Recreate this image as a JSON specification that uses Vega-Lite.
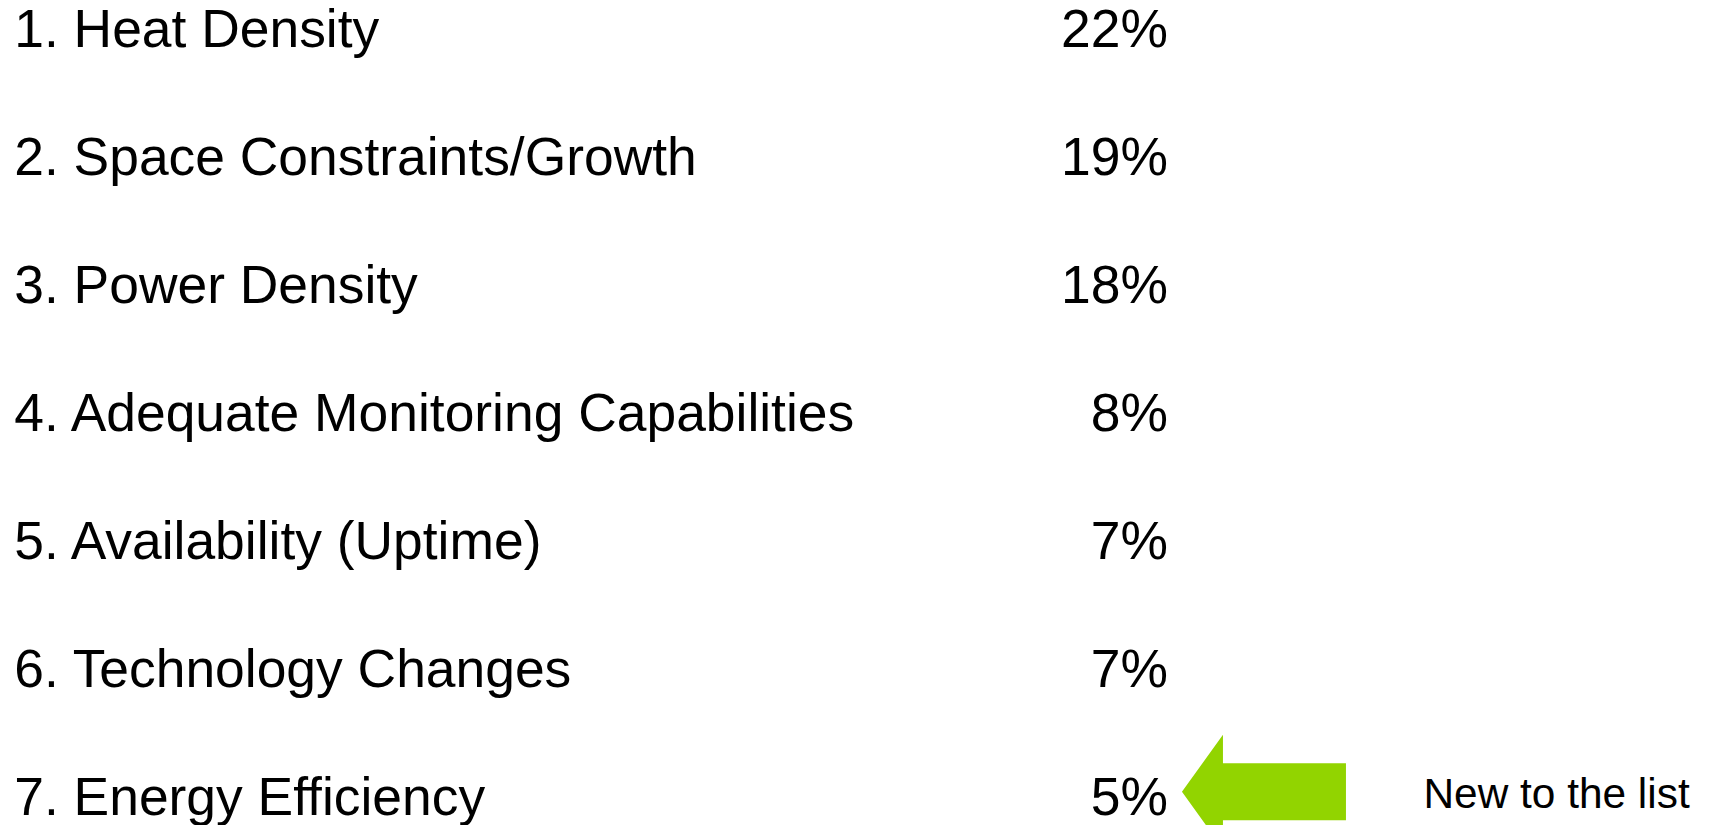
{
  "$schema": "https://vega.github.io/schema/vega-lite/v6.json",
  "width": 1715,
  "height": 825,
  "padding": 0,
  "autosize": {"type": "fit", "contains": "padding"},
  "background": "white",
  "config": {"view": {"stroke": null}, "text": {"font": "Liberation Sans", "color": "#000000"}},
  "data": {
    "values": [
      {"rank": 1, "label": "1. Heat Density", "pct": 0.22},
      {"rank": 2, "label": "2. Space Constraints/Growth", "pct": 0.19},
      {"rank": 3, "label": "3. Power Density", "pct": 0.18},
      {"rank": 4, "label": "4. Adequate Monitoring Capabilities", "pct": 0.08},
      {"rank": 5, "label": "5. Availability (Uptime)", "pct": 0.07},
      {"rank": 6, "label": "6. Technology Changes", "pct": 0.07},
      {"rank": 7, "label": "7. Energy Efficiency", "pct": 0.05, "note": "New to the list"}
    ]
  },
  "layer": [
    {
      "mark": {"type": "text", "align": "left", "baseline": "alphabetic", "fontSize": 53.4, "clip": true},
      "encoding": {
        "x": {"datum": 0.83, "type": "quantitative", "scale": {"domain": [0, 100]}, "axis": null},
        "y": {"field": "rank", "type": "quantitative", "scale": {"domain": [0.635, 7.08], "reverse": true, "nice": false, "zero": false}, "axis": null},
        "text": {"field": "label"}
      }
    },
    {
      "mark": {"type": "text", "align": "right", "baseline": "alphabetic", "fontSize": 53.4, "clip": true},
      "encoding": {
        "x": {"datum": 68.1, "type": "quantitative", "scale": {"domain": [0, 100]}, "axis": null},
        "y": {"field": "rank", "type": "quantitative", "scale": {"domain": [0.635, 7.08], "reverse": true, "nice": false, "zero": false}, "axis": null},
        "text": {"field": "pct", "format": ".0%"}
      }
    },
    {
      "transform": [{"filter": "isValid(datum.note)"}],
      "mark": {
        "type": "point",
        "shape": "M-1,0 L-0.5,-0.695 L-0.5,-0.348 L1,-0.348 L1,0.348 L-0.5,0.348 L-0.5,0.695 Z",
        "size": 26896,
        "filled": true,
        "opacity": 1,
        "strokeWidth": 0,
        "color": "#92D400",
        "yOffset": -23,
        "clip": true
      },
      "encoding": {
        "x": {"datum": 73.7, "type": "quantitative", "scale": {"domain": [0, 100]}, "axis": null},
        "y": {"field": "rank", "type": "quantitative", "scale": {"domain": [0.635, 7.08], "reverse": true, "nice": false, "zero": false}, "axis": null}
      }
    },
    {
      "transform": [{"filter": "isValid(datum.note)"}],
      "mark": {"type": "text", "align": "left", "baseline": "alphabetic", "fontSize": 42.4, "yOffset": -7, "clip": true},
      "encoding": {
        "x": {"datum": 83.0, "type": "quantitative", "scale": {"domain": [0, 100]}, "axis": null},
        "y": {"field": "rank", "type": "quantitative", "scale": {"domain": [0.635, 7.08], "reverse": true, "nice": false, "zero": false}, "axis": null},
        "text": {"field": "note"}
      }
    }
  ]
}
